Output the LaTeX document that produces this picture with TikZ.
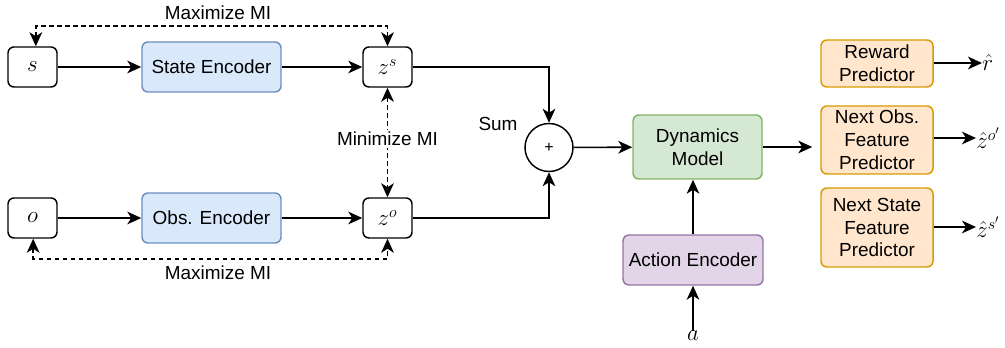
\documentclass[tikz,border=0pt]{standalone}
\usepackage{fontspec}
\setmainfont{Liberation Sans}
\usetikzlibrary{arrows.meta,calc}

\definecolor{blueF}{HTML}{DAE8FC}\definecolor{blueD}{HTML}{6C8EBF}
\definecolor{greenF}{HTML}{D5E8D4}\definecolor{greenD}{HTML}{82B366}
\definecolor{purpF}{HTML}{E1D5E7}\definecolor{purpD}{HTML}{9673A6}
\definecolor{orF}{HTML}{FFE6CC}\definecolor{orD}{HTML}{D79B00}

\newcommand{\mathsz}{\fontsize{17}{19}\selectfont}
\newcommand{\outsz}{\fontsize{18}{20}\selectfont}

\begin{document}
\begin{tikzpicture}[x=0.75pt,y=-0.75pt,
  every node/.style={font=\fontsize{14.2}{17.2}\selectfont, inner sep=0pt},
  box/.style={draw, rounded corners=4.5pt, line width=1.1pt, align=center},
  varbox/.style={box, minimum width=36.75pt, minimum height=30pt},
  enc/.style={box, fill=blueF, draw=blueD, minimum width=104.25pt, minimum height=37.5pt},
  pred/.style={box, fill=orF, draw=orD, minimum width=84pt},
  conn/.style={line width=1.2pt, -{Stealth[length=10.5pt,width=9.5pt,inset=3pt]}},
  mi/.style={line width=1.2pt, dash pattern=on 3.5pt off 2.5pt, {Stealth[length=10.5pt,width=9.5pt,inset=3pt]}-{Stealth[length=10.5pt,width=9.5pt,inset=3pt]}},
  lbl/.style={fill=white, inner sep=1.5pt},
  mathlbl/.style={font=\mathsz},
  outlbl/.style={font=\outsz, anchor=west}]
\useasboundingbox (0,0) rectangle (1005,348);

% state branch
\node[varbox, mathlbl] (s) at (32.5,67) {$s$};
\node[enc] (se) at (211.5,67) {State Encoder};
\node[varbox, mathlbl] (zs) at (387.5,67) {$z^{s}$};
% observation branch
\node[varbox, mathlbl] (o) at (32.5,218) {$o$};
\node[enc] (oe) at (211.5,218) {Obs. Encoder};
\node[varbox, mathlbl] (zo) at (387.5,218) {$z^{o}$};

\draw[conn] (s) -- (se);
\draw[conn] (se) -- (zs);
\draw[conn] (o) -- (oe);
\draw[conn] (oe) -- (zo);

% mutual-information objectives
\draw[mi] ([xshift=2.5pt]s.north) -- ++(0,-20) -| (zs.north);
\node (maxtop) at (218,13) {Maximize MI};
\draw[mi] ([xshift=0.5pt]o.south) -- ++(0,20) -| (zo.south);
\node (maxbot) at (218,273) {Maximize MI};
\draw[mi] (zs.south) -- (zo.north);
\node[lbl] (minmi) at (387.5,139) {Minimize MI};

% summation
\node[draw, circle, line width=1.1pt, minimum size=36pt] (sum) at (549,147.5) {\fontsize{12}{14}\selectfont +};
\node (sumlbl) at (498,124) {Sum};
\draw[conn] (zs.east) -| (sum.north);
\draw[conn] (zo.east) -| (sum.south);

% dynamics
\node[box, fill=greenF, draw=greenD, minimum width=96.75pt, minimum height=48pt] (dm) at (697.5,147) {Dynamics\\Model};
\node[box, fill=purpF, draw=purpD, minimum width=105pt, minimum height=37.5pt] (ae) at (693,260) {Action Encoder};
\node[mathlbl] (a) at (693,336) {$a$};
\draw[conn] (sum) -- (dm);
\draw[conn] (ae.north -| a) -- (dm.south -| a);
\draw[conn] (a.north) -- (ae.south -| a);

% predictors
\node[pred, minimum height=35.25pt] (rp) at (877,63.5) {Reward\\Predictor};
\node[pred, minimum height=51pt] (np) at (877,140) {Next Obs.\\Feature\\Predictor};
\node[pred, minimum height=59.25pt] (sp) at (877,227.5) {Next State\\Feature\\Predictor};
\draw[conn, shorten >=6pt] (dm.east) -- (dm.east -| np.west);

\node[outlbl] (rhat) at (982,63) {$\hat{r}$};
\node[outlbl] (zohat) at (976,138) {$\hat{z}^{o'}$};
\node[outlbl] (zshat) at (976,227) {$\hat{z}^{s'}$};
\draw[conn, line width=1.6pt] (rp.east |- rhat) -- (rhat.west);
\draw[conn] (np.east |- zohat) -- (zohat.west);
\draw[conn] (sp.east |- zshat) -- (zshat.west);
\end{tikzpicture}
\end{document}
